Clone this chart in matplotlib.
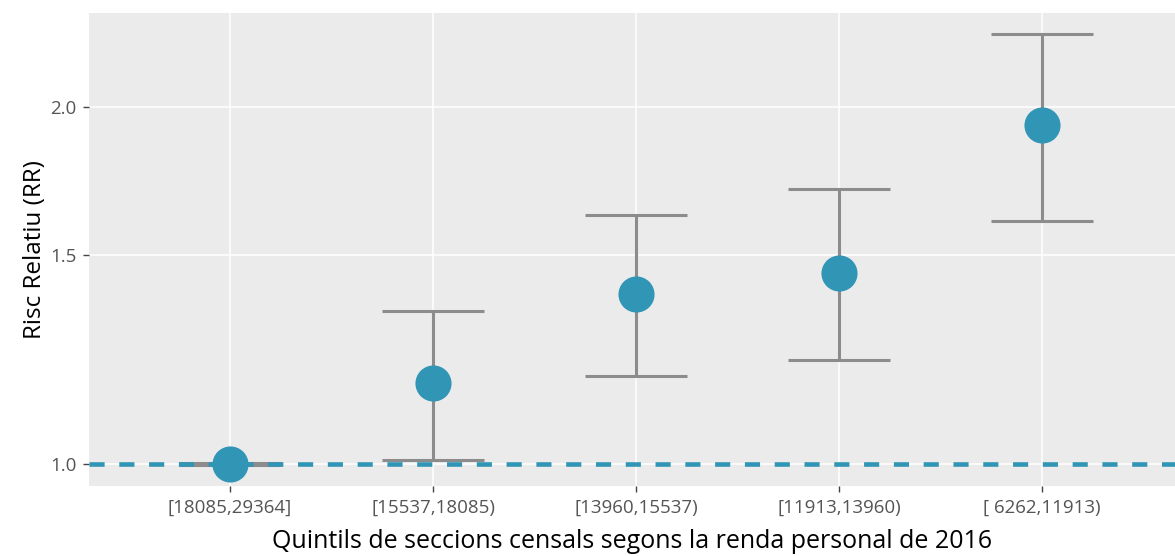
import matplotlib.pyplot as plt
from matplotlib.ticker import FixedLocator, NullLocator

plt.rcParams['font.family'] = ['Open Sans', 'DejaVu Sans']

# dades
quintils = ["[18085,29364]", "[15537,18085)", "[13960,15537)", "[11913,13960)", "[ 6262,11913)"]
rr = [1.0, 1.17, 1.39, 1.45, 1.93]
ic_inf = [0.998, 1.008, 1.186, 1.224, 1.603]
ic_sup = [1.002, 1.346, 1.622, 1.706, 2.305]

blau = "#3195b5"
gris = "#8c8c8c"

fig = plt.figure(figsize=(11.75, 5.56), dpi=100)
ax = fig.add_axes([0.0757, 0.1259, 0.9243, 0.8507])
ax.set_facecolor("#ebebeb")
ax.set_yscale("log")

xs = list(range(1, len(quintils) + 1))
err = [[r - lo for r, lo in zip(rr, ic_inf)], [hi - r for r, hi in zip(rr, ic_sup)]]
ax.errorbar(xs, rr, yerr=err, fmt="none", ecolor=gris, elinewidth=2.2,
            capsize=37, capthick=2.2, zorder=2)
ax.axhline(1.0, color=blau, lw=3.3, ls=(0, (3.3, 3.2)), zorder=3)
ax.plot(xs, rr, "o", color=blau, markersize=26, markeredgewidth=0, zorder=4)

ax.set_xlim(0.305, 5.655)
ax.set_ylim(0.958, 2.40)
ax.set_xticks(xs)
ax.set_xticklabels(quintils)
ax.yaxis.set_major_locator(FixedLocator([1.0, 1.5, 2.0]))
ax.yaxis.set_minor_locator(NullLocator())
ax.set_yticklabels(["1.0", "1.5", "2.0"])

ax.grid(True, color="white", lw=1.1)
ax.set_axisbelow(True)
for s in ax.spines.values():
    s.set_visible(False)
ax.tick_params(axis="both", colors="#444444", labelcolor="#555555", labelsize=13.5,
               length=4, width=1, pad=5)

ax.set_xlabel("Quintils de seccions censals segons la renda personal de 2016",
              fontsize=18, color="black", labelpad=9)
ax.set_ylabel("Risc Relatiu (RR)", fontsize=17.5, color="black", labelpad=2)

fig.savefig("out.png", dpi=100)
